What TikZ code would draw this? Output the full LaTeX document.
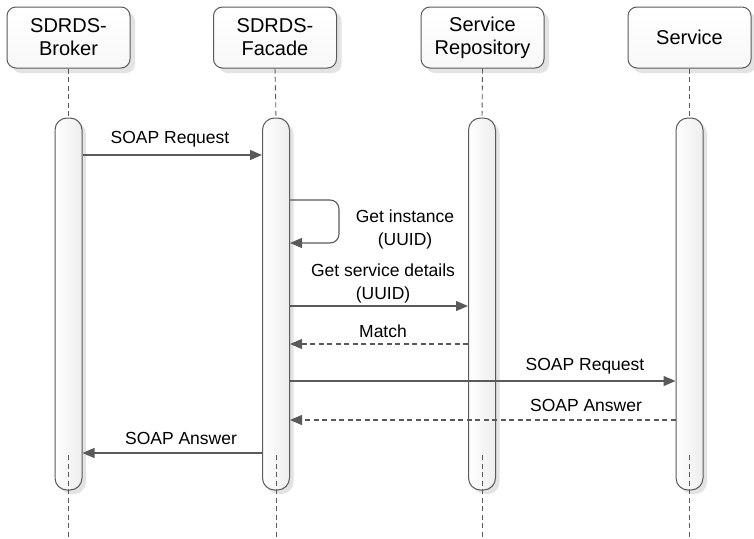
\documentclass[tikz,border=0pt]{standalone}
\usepackage{fontspec}
\setmainfont{Liberation Sans}
\usetikzlibrary{arrows.meta,shadows}
\definecolor{linegray}{HTML}{5A5A5A}
\tikzset{
  head/.style={draw=linegray, line width=1pt, rounded corners=9pt, top color=white, bottom color=gray!6,
    minimum width=123pt, minimum height=61pt, align=center, font=\fontsize{20}{23}\selectfont,
    drop shadow={shadow xshift=5pt, shadow yshift=-5pt, fill=gray!40, opacity=.55}},
  bar/.style={draw=linegray, line width=1pt, rounded corners=12pt, left color=white, right color=gray!14,
    minimum width=27pt, minimum height=372pt, inner sep=0pt,
    drop shadow={shadow xshift=4pt, shadow yshift=-4pt, fill=gray!40, opacity=.55}},
  life/.style={draw=linegray, line width=.9pt, dash pattern=on 5pt off 3.5pt},
  msg/.style={draw=linegray, line width=1.1pt, -{Triangle[length=12pt,width=10pt]}, color=linegray},
  reply/.style={msg, dash pattern=on 5pt off 3.5pt},
  lbl/.style={font=\fontsize{17.5}{23}\selectfont, align=center, inner sep=0pt}
}
\begin{document}
\begin{tikzpicture}[x=1pt, y=-1pt, font=\fontsize{17.5}{23}\selectfont]
        \useasboundingbox[fill=white] (0,0) rectangle (754,538);

        \node[head] (broker) at (68.5,37.5) {SDRDS-\\Broker};
        \node[head] (facade) at (275,37.5) {SDRDS-\\Facade};
        \node[head] (repo) at (482.5,37.5) {Service\\Repository};
        \node[head] (service) at (689.5,37.5) {Service};

        \node[bar] (brokerbar) at (68.5,304) {};
        \node[bar] (facadebar) at (276,304) {};
        \node[bar] (repobar) at (482,304) {};
        \node[bar] (servicebar) at (689.5,304) {};

        % lifelines
        \foreach \h/\b in {broker/brokerbar, facade/facadebar, repo/repobar, service/servicebar} {
          \draw[life] (\h.south) -- (\b.north);
          \draw[life] (\b.center |- 0,455) -- (\b.center |- 0,538);
        }

        \draw[msg] (brokerbar.east |- 0,155) -- (facadebar.west |- 0,155);
        \node[lbl] (l1) at (170,139) {SOAP Request};

        \draw[msg, rounded corners=9pt] (facadebar.east |- 0,200) -- (339,200) -- (339,243) -- (facadebar.east |- 0,243);
        \node[lbl] (l2) at (405,229) {Get instance\\(UUID)};

        \draw[msg] (facadebar.east |- 0,306) -- (repobar.west |- 0,306);
        \node[lbl] (l3) at (383,283) {Get service details\\(UUID)};

        \draw[reply] (repobar.west |- 0,344) -- (facadebar.east |- 0,344);
        \node[lbl] (l4) at (383,331) {Match};

        \draw[msg] (facadebar.east |- 0,381) -- (servicebar.west |- 0,381);
        \node[lbl] (l5) at (585,366) {SOAP Request};

        \draw[reply] (servicebar.west |- 0,420) -- (facadebar.east |- 0,420);
        \node[lbl] (l6) at (586,405) {SOAP Answer};

        \draw[msg] (facadebar.west |- 0,453) -- (brokerbar.east |- 0,453);
        \node[lbl] (l7) at (181,438) {SOAP Answer};

\end{tikzpicture}
\end{document}
